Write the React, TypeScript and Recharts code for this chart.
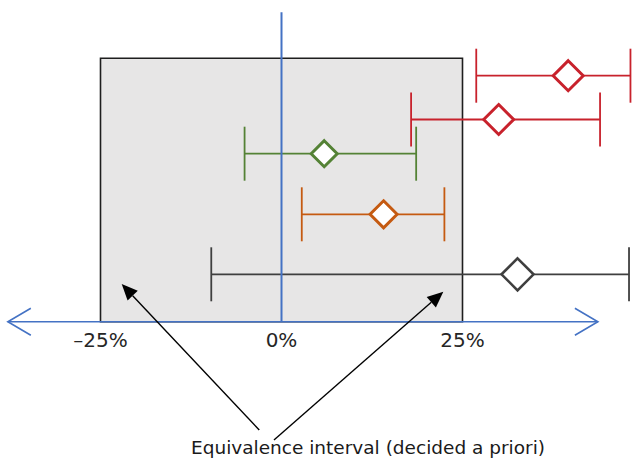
import React from "react";
import {
  ScatterChart,
  Scatter,
  XAxis,
  YAxis,
  ErrorBar,
  ReferenceArea,
  ReferenceLine,
  ReferenceDot,
} from "recharts";

// ---- data ----
const estimates = [39.6, 30.0, 5.9, 14.1, 32.6];
const lowerCI = [26.9, 17.9, -5.1, 2.8, -9.7];
const upperCI = [48.2, 44.0, 18.6, 22.5, 48.0];
const rowPositions = [4.1, 3.37, 2.8, 1.79, 0.79];

const equivalenceLow = -25;
const equivalenceHigh = 25;
const tickValues = [-25, 0, 25];
const tickLabels = ["\u201325%", "0%", "25%"];
const annotationText = "Equivalence interval (decided a priori)";

// annotation geometry in data units
const rectTop = 4.39;
const zeroLineTop = 5.157;
const axisLeft = -37.8;
const axisRight = 43.7;
const annotationPos = { x: 11.95, y: -2.2 };
const arrowTails = [
  { x: -3.07, y: -1.805 },
  { x: -1.04, y: -1.972 },
];
const arrowTips = [
  { x: -22.07, y: 0.628 },
  { x: 22.35, y: 0.5 },
];

// ---- styles ----
const rowColors = ["#C8222C", "#C8222C", "#548235", "#C55A11", "#3F3F3F"];
const diamondHalf = [15, 15, 13, 13.5, 16];
const diamondStroke = [3, 3, 3, 3, 2.6];
const BLUE = "#4472C4";

const X_DOMAIN: [number, number] = [-281.5 / 7.24, (632 - 281.5) / 7.24];
const Y_DOMAIN: [number, number] = [-(465 - 321.7) / 60, 321.7 / 60];

const FONT = "'DejaVu Sans', Verdana, sans-serif";

function makeDiamond(i: number) {
  return (props: any) => {
    const { cx, cy } = props;
    const h = diamondHalf[i];
    const pts = `${cx},${cy - h} ${cx + h},${cy} ${cx},${cy + h} ${cx - h},${cy}`;
    return (
      <polygon
        points={pts}
        fill="#ffffff"
        stroke={rowColors[i]}
        strokeWidth={diamondStroke[i]}
        strokeLinejoin="miter"
      />
    );
  };
}

const axisShape = (props: any) => {
  const { x1, y1, x2 } = props;
  return (
    <g>
      <line x1={x1} y1={y1} x2={x2} y2={y1} stroke={BLUE} strokeWidth={1.6} />
      <polyline
        points={`${x1 + 23},${y1 - 13.5} ${x1},${y1} ${x1 + 23},${y1 + 13.5}`}
        fill="none"
        stroke={BLUE}
        strokeWidth={1.6}
      />
      <polyline
        points={`${x2 - 23},${y1 - 13.5} ${x2},${y1} ${x2 - 23},${y1 + 13.5}`}
        fill="none"
        stroke={BLUE}
        strokeWidth={1.6}
      />
    </g>
  );
};

const arrowShape = (props: any) => {
  const { x1, y1, x2, y2 } = props;
  const dx = x2 - x1;
  const dy = y2 - y1;
  const len = Math.sqrt(dx * dx + dy * dy);
  const ux = dx / len;
  const uy = dy / len;
  const headLen = 16;
  const headW = 7;
  const bx = x2 - ux * headLen;
  const by = y2 - uy * headLen;
  const px = -uy;
  const py = ux;
  return (
    <g>
      <line x1={x1} y1={y1} x2={bx} y2={by} stroke="#000" strokeWidth={1.4} />
      <polygon
        points={`${x2},${y2} ${bx + px * headW},${by + py * headW} ${bx - px * headW},${by - py * headW}`}
        fill="#000"
      />
    </g>
  );
};

export default function App() {
  return (
    <div
      style={{
        position: "absolute",
        left: 0,
        top: 0,
        width: 632,
        height: 465,
        overflow: "hidden",
      }}
    >
      <ScatterChart
        width={632}
        height={465}
        margin={{ top: 0, right: 0, bottom: 0, left: 0 }}
      >
        <XAxis type="number" dataKey="x" hide domain={X_DOMAIN} allowDataOverflow />
        <YAxis type="number" dataKey="y" hide domain={Y_DOMAIN} allowDataOverflow />

        <ReferenceArea
          x1={equivalenceLow}
          x2={equivalenceHigh}
          y1={0}
          y2={rectTop}
          fill="#E7E6E6"
          fillOpacity={1}
          stroke="#1E1E1E"
          strokeWidth={1.6}
          ifOverflow="visible"
        />

        {estimates.map((est, i) => (
          <Scatter
            key={i}
            data={[
              {
                x: est,
                y: rowPositions[i],
                err: [est - lowerCI[i], upperCI[i] - est],
              },
            ]}
            shape={makeDiamond(i)}
            isAnimationActive={false}
          >
            <ErrorBar
              dataKey="err"
              direction="x"
              width={27}
              stroke={rowColors[i]}
              strokeWidth={1.8}
              isAnimationActive={false}
            />
          </Scatter>
        ))}

        <ReferenceLine
          segment={[
            { x: 0, y: 0 },
            { x: 0, y: zeroLineTop },
          ]}
          stroke={BLUE}
          strokeWidth={2}
          ifOverflow="visible"
        />

        <ReferenceLine
          segment={[
            { x: axisLeft, y: 0 },
            { x: axisRight, y: 0 },
          ]}
          shape={axisShape}
          ifOverflow="visible"
        />

        {tickValues.map((t, i) => (
          <ReferenceDot
            key={"t" + i}
            x={t}
            y={0}
            r={0}
            ifOverflow="visible"
            shape={(p: any) => (
              <text
                x={p.cx}
                y={p.cy + 25}
                textAnchor="middle"
                fontFamily={FONT}
                fontSize={20}
                fill="#262626"
              >
                {tickLabels[i]}
              </text>
            )}
          />
        ))}

        {arrowTails.map((tail, i) => (
          <ReferenceLine
            key={"a" + i}
            segment={[tail, arrowTips[i]]}
            shape={arrowShape}
            ifOverflow="visible"
          />
        ))}

        <ReferenceDot
          x={annotationPos.x}
          y={annotationPos.y}
          r={0}
          ifOverflow="visible"
          shape={(p: any) => (
            <text
              x={p.cx}
              y={p.cy}
              textAnchor="middle"
              fontFamily={FONT}
              fontSize={18.5}
              fill="#1A1A1A"
            >
              {annotationText}
            </text>
          )}
        />
      </ScatterChart>
    </div>
  );
}
